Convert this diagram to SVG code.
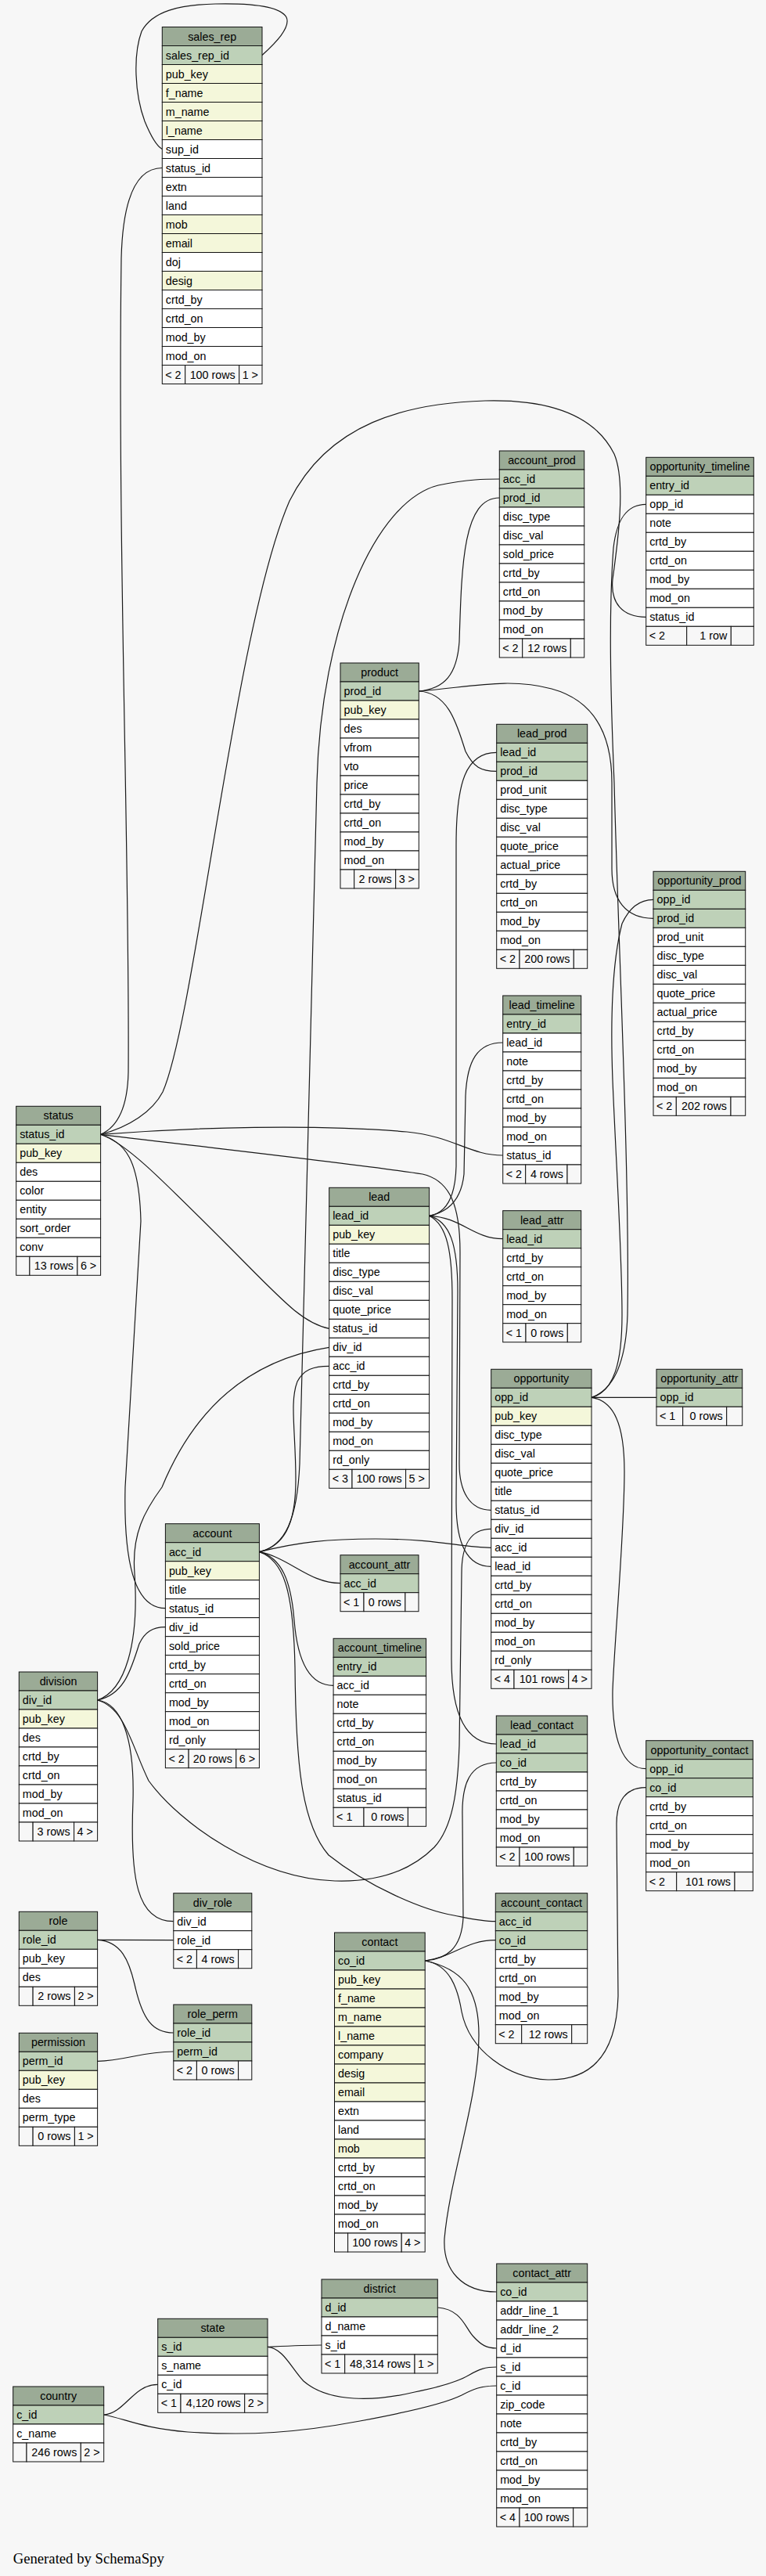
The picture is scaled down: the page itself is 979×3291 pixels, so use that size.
<svg xmlns="http://www.w3.org/2000/svg" width="979" height="3291" viewBox="0 0 979 3291">
<style>
.bg{fill:#f7f7f7;stroke:none}
.e{fill:none;stroke:#1a1a1a;stroke-width:1.2}
rect{stroke:#111;stroke-width:1}
.h{fill:#9bab96}
.k{fill:#bed1b8}
.y{fill:#f4f7da}
.w{fill:#ffffff}
.f{fill:#f7f7f7}
text{font-family:"Liberation Sans",Arial,Helvetica,sans-serif;font-size:14.3px;fill:#000}
.c{text-anchor:middle}
.r{text-anchor:end}
.g{font-family:"Liberation Serif","Times New Roman",serif;font-size:18.7px}
</style>
<rect class="bg" x="0" y="0" width="979" height="3291"/>
<g id="connectors">
<path class="e" d="M335,70.5 C352,55 372,35 366,22 C358,8 320,4 275,5 C230,6 195,14 181,40 C170,70 172,120 185,155 C192,172 199,186 207.3,190.5"/>
<path class="e" d="M128.6,1449.3 C150,1440 163,1415 164,1370 C166,1100 150,700 155,330 C157,250 175,214.5 207.3,214.5"/>
<path class="e" d="M128.6,1449.3 C165,1440 195,1420 208,1395 C250,1300 300,800 370,640 C420,540 520,515 620,512 C700,510 760,530 785,580 C800,615 790,690 783,740 C780,770 795,788.3 825.7,788.3"/>
<path class="e" d="M128.6,1449.3 C250,1440 400,1436 520,1446 C580,1452 600,1476 642.7,1476"/>
<path class="e" d="M128.6,1449.3 C160,1460 200,1500 290,1590 C360,1660 385,1690 420.7,1697.3"/>
<path class="e" d="M128.6,1449.3 C300,1470 480,1490 540,1500 C575,1508 588,1540 588,1600 L587,1870 C587,1905 600,1929.3 627.7,1929.3"/>
<path class="e" d="M128.6,1449.3 C160,1460 178,1480 180,1560 L160,1900 C158,1990 170,2054.7 211.4,2054.7"/>
<path class="e" d="M331.4,1982.7 C365,1975 380,1940 383,1870 C390,1600 400,1200 405,1000 C410,800 480,640 560,620 C600,612 620,612 638.3,612"/>
<path class="e" d="M535.3,883 C568,880 584,862 587,820 C590,720 592,636 638.3,636"/>
<path class="e" d="M535.3,883 C575,885 585,930 595,960 C605,980 615,985.3 634.7,985.3"/>
<path class="e" d="M535.3,883 C600,878 650,865 705,880 C760,895 782,940 782,1000 L782,1110 C782,1150 800,1173.3 835,1173.3"/>
<path class="e" d="M548.6,1553.3 C570,1550 582,1530 583,1490 L583,1080 C583,1000 595,961.3 634.7,961.3"/>
<path class="e" d="M548.6,1553.3 C575,1548 590,1530 593,1500 L595,1400 C597,1355 610,1332 642.7,1332"/>
<path class="e" d="M548.6,1553.3 C590,1555 605,1582.7 642.7,1582.7"/>
<path class="e" d="M548.6,1553.3 C575,1560 585,1590 585,1650 L583,1920 C583,1970 595,2001.3 627.7,2001.3"/>
<path class="e" d="M548.6,1553.3 C572,1565 578,1600 578,1660 L577,2120 C577,2190 595,2228 634.3,2228"/>
<path class="e" d="M756,1785.3 L839,1785.3"/>
<path class="e" d="M756,1785.3 C785,1775 800,1740 802,1680 C805,1500 790,1200 785,1000 C780,880 778,780 784,700 C788,665 800,644.3 825.7,644.3"/>
<path class="e" d="M756,1785.3 C785,1778 795,1740 795,1680 C795,1600 787,1480 783,1380 C780,1300 782,1230 795,1180 C805,1158 818,1149.3 835,1149.3"/>
<path class="e" d="M756,1785.3 C785,1790 798,1820 798,1880 C798,1960 785,2100 783,2160 C782,2220 795,2259.7 825.7,2259.7"/>
<path class="e" d="M331.4,1982.7 C362,1975 378,1950 378,1890 C378,1830 370,1790 380,1765 C388,1750 400,1745.3 420.7,1745.3"/>
<path class="e" d="M331.4,1982.7 C380,1970 420,1966 480,1966 C560,1966 590,1977.3 627.7,1977.3"/>
<path class="e" d="M331.4,1982.7 C370,1990 395,2022.7 435,2022.7"/>
<path class="e" d="M331.4,1982.7 C360,1990 372,2020 376,2070 C380,2120 395,2153.3 426.1,2153.3"/>
<path class="e" d="M331.4,1982.7 C362,1993 375,2030 377,2130 C378,2250 385,2330 420,2370 C470,2410 540,2440 580,2447 C600,2451 615,2454.7 633.3,2454.7"/>
<path class="e" d="M124.6,2172 C160,2165 168,2130 178,2100 C185,2085 195,2078.7 211.4,2078.7"/>
<path class="e" d="M124.6,2172 C160,2160 178,2100 172,2010 C168,1960 185,1930 207,1900 C240,1820 300,1740 420.7,1721.3"/>
<path class="e" d="M124.6,2172 C155,2176 172,2220 170,2300 C166,2400 175,2454.7 221.8,2454.7"/>
<path class="e" d="M124.6,2172 C160,2182 168,2230 190,2275 C230,2330 330,2400 428,2403 C490,2405 530,2385 555,2360 C578,2335 585,2290 587,2230 L590,2010 C590,1975 600,1953.3 627.7,1953.3"/>
<path class="e" d="M543.2,2505 C570,2503 590,2490 592,2450 L591,2320 C590,2280 600,2252 634.3,2252"/>
<path class="e" d="M543.2,2505 C580,2500 595,2478.7 633.3,2478.7"/>
<path class="e" d="M543.2,2505 C575,2510 585,2540 590,2570 C600,2620 650,2655 700,2657 C760,2658 788,2620 790,2550 L788,2330 C788,2300 800,2283.7 825.7,2283.7"/>
<path class="e" d="M543.2,2505 C590,2515 612,2540 612,2600 C612,2680 575,2780 568,2860 C566,2900 590,2928 634.7,2928"/>
<path class="e" d="M124.6,2478.3 L221.8,2478.7"/>
<path class="e" d="M124.6,2478.3 C155,2480 165,2505 172,2535 C182,2580 195,2597 221.8,2597"/>
<path class="e" d="M124.6,2633.3 C160,2633 180,2621 221.8,2621"/>
<path class="e" d="M132.7,3085 C160,3083 170,3046.3 201.7,3046.3"/>
<path class="e" d="M132.7,3085 C160,3090 180,3102 240,3107 C320,3112 380,3108 460,3093 C530,3080 570,3070 590,3060 C605,3052 615,3048 634.7,3048"/>
<path class="e" d="M342,2998.3 C370,2997 390,2996 411,2996"/>
<path class="e" d="M342,2998.3 C362,3000 372,3025 388,3042 C420,3070 480,3068 530,3056 C570,3048 590,3040 600,3034 C612,3027 620,3024 634.7,3024"/>
<path class="e" d="M559.3,2948 C590,2950 595,2975 605,2985 C615,2996 622,3000 634.7,3000"/>
</g>
<g id="sales_rep">
<rect class="h" x="207.3" y="34.5" width="127.7" height="24"/><text class="c" x="271.2" y="51.5">sales_rep</text>
<rect class="k" x="207.3" y="58.5" width="127.7" height="24"/><text x="211.8" y="75.5">sales_rep_id</text>
<rect class="y" x="207.3" y="82.5" width="127.7" height="24"/><text x="211.8" y="99.5">pub_key</text>
<rect class="y" x="207.3" y="106.5" width="127.7" height="24"/><text x="211.8" y="123.5">f_name</text>
<rect class="y" x="207.3" y="130.5" width="127.7" height="24"/><text x="211.8" y="147.5">m_name</text>
<rect class="y" x="207.3" y="154.5" width="127.7" height="24"/><text x="211.8" y="171.5">l_name</text>
<rect class="w" x="207.3" y="178.5" width="127.7" height="24"/><text x="211.8" y="195.5">sup_id</text>
<rect class="w" x="207.3" y="202.5" width="127.7" height="24"/><text x="211.8" y="219.5">status_id</text>
<rect class="w" x="207.3" y="226.5" width="127.7" height="24"/><text x="211.8" y="243.5">extn</text>
<rect class="w" x="207.3" y="250.5" width="127.7" height="24"/><text x="211.8" y="267.5">land</text>
<rect class="y" x="207.3" y="274.5" width="127.7" height="24"/><text x="211.8" y="291.5">mob</text>
<rect class="y" x="207.3" y="298.5" width="127.7" height="24"/><text x="211.8" y="315.5">email</text>
<rect class="w" x="207.3" y="322.5" width="127.7" height="24"/><text x="211.8" y="339.5">doj</text>
<rect class="y" x="207.3" y="346.5" width="127.7" height="24"/><text x="211.8" y="363.5">desig</text>
<rect class="w" x="207.3" y="370.5" width="127.7" height="24"/><text x="211.8" y="387.5">crtd_by</text>
<rect class="w" x="207.3" y="394.5" width="127.7" height="24"/><text x="211.8" y="411.5">crtd_on</text>
<rect class="w" x="207.3" y="418.5" width="127.7" height="24"/><text x="211.8" y="435.5">mod_by</text>
<rect class="w" x="207.3" y="442.5" width="127.7" height="24"/><text x="211.8" y="459.5">mod_on</text>
<rect class="f" x="207.3" y="466.5" width="29.4" height="24"/><rect class="f" x="236.7" y="466.5" width="69" height="24"/><rect class="f" x="305.7" y="466.5" width="29.3" height="24"/>
<text x="211.3" y="483.5">&lt; 2</text><text class="r" x="300.7" y="483.5">100 rows</text><text x="309.7" y="483.5">1 &gt;</text>
</g>
<g id="account_prod">
<rect class="h" x="638.3" y="576" width="108.4" height="24"/><text class="c" x="692.5" y="593">account_prod</text>
<rect class="k" x="638.3" y="600" width="108.4" height="24"/><text x="642.8" y="617">acc_id</text>
<rect class="k" x="638.3" y="624" width="108.4" height="24"/><text x="642.8" y="641">prod_id</text>
<rect class="w" x="638.3" y="648" width="108.4" height="24"/><text x="642.8" y="665">disc_type</text>
<rect class="w" x="638.3" y="672" width="108.4" height="24"/><text x="642.8" y="689">disc_val</text>
<rect class="w" x="638.3" y="696" width="108.4" height="24"/><text x="642.8" y="713">sold_price</text>
<rect class="w" x="638.3" y="720" width="108.4" height="24"/><text x="642.8" y="737">crtd_by</text>
<rect class="w" x="638.3" y="744" width="108.4" height="24"/><text x="642.8" y="761">crtd_on</text>
<rect class="w" x="638.3" y="768" width="108.4" height="24"/><text x="642.8" y="785">mod_by</text>
<rect class="w" x="638.3" y="792" width="108.4" height="24"/><text x="642.8" y="809">mod_on</text>
<rect class="f" x="638.3" y="816" width="29.4" height="24"/><rect class="f" x="667.7" y="816" width="61.6" height="24"/><rect class="f" x="729.3" y="816" width="17.4" height="24"/>
<text x="642.3" y="833">&lt; 2</text><text class="r" x="724.3" y="833">12 rows</text>
</g>
<g id="opportunity_timeline">
<rect class="h" x="825.7" y="584.3" width="137.6" height="24"/><text class="c" x="894.5" y="601.3">opportunity_timeline</text>
<rect class="k" x="825.7" y="608.3" width="137.6" height="24"/><text x="830.2" y="625.3">entry_id</text>
<rect class="w" x="825.7" y="632.3" width="137.6" height="24"/><text x="830.2" y="649.3">opp_id</text>
<rect class="w" x="825.7" y="656.3" width="137.6" height="24"/><text x="830.2" y="673.3">note</text>
<rect class="w" x="825.7" y="680.3" width="137.6" height="24"/><text x="830.2" y="697.3">crtd_by</text>
<rect class="w" x="825.7" y="704.3" width="137.6" height="24"/><text x="830.2" y="721.3">crtd_on</text>
<rect class="w" x="825.7" y="728.3" width="137.6" height="24"/><text x="830.2" y="745.3">mod_by</text>
<rect class="w" x="825.7" y="752.3" width="137.6" height="24"/><text x="830.2" y="769.3">mod_on</text>
<rect class="w" x="825.7" y="776.3" width="137.6" height="24"/><text x="830.2" y="793.3">status_id</text>
<rect class="f" x="825.7" y="800.3" width="52" height="24"/><rect class="f" x="877.7" y="800.3" width="56.6" height="24"/><rect class="f" x="934.3" y="800.3" width="29" height="24"/>
<text x="829.7" y="817.3">&lt; 2</text><text class="r" x="929.3" y="817.3">1 row</text>
</g>
<g id="product">
<rect class="h" x="435" y="847" width="100.3" height="24"/><text class="c" x="485.2" y="864">product</text>
<rect class="k" x="435" y="871" width="100.3" height="24"/><text x="439.5" y="888">prod_id</text>
<rect class="y" x="435" y="895" width="100.3" height="24"/><text x="439.5" y="912">pub_key</text>
<rect class="w" x="435" y="919" width="100.3" height="24"/><text x="439.5" y="936">des</text>
<rect class="w" x="435" y="943" width="100.3" height="24"/><text x="439.5" y="960">vfrom</text>
<rect class="w" x="435" y="967" width="100.3" height="24"/><text x="439.5" y="984">vto</text>
<rect class="w" x="435" y="991" width="100.3" height="24"/><text x="439.5" y="1008">price</text>
<rect class="w" x="435" y="1015" width="100.3" height="24"/><text x="439.5" y="1032">crtd_by</text>
<rect class="w" x="435" y="1039" width="100.3" height="24"/><text x="439.5" y="1056">crtd_on</text>
<rect class="w" x="435" y="1063" width="100.3" height="24"/><text x="439.5" y="1080">mod_by</text>
<rect class="w" x="435" y="1087" width="100.3" height="24"/><text x="439.5" y="1104">mod_on</text>
<rect class="f" x="435" y="1111" width="17.7" height="24"/><rect class="f" x="452.7" y="1111" width="53" height="24"/><rect class="f" x="505.7" y="1111" width="29.6" height="24"/>
<text class="r" x="500.7" y="1128">2 rows</text><text x="509.7" y="1128">3 &gt;</text>
</g>
<g id="lead_prod">
<rect class="h" x="634.7" y="925.3" width="116" height="24"/><text class="c" x="692.7" y="942.3">lead_prod</text>
<rect class="k" x="634.7" y="949.3" width="116" height="24"/><text x="639.2" y="966.3">lead_id</text>
<rect class="k" x="634.7" y="973.3" width="116" height="24"/><text x="639.2" y="990.3">prod_id</text>
<rect class="w" x="634.7" y="997.3" width="116" height="24"/><text x="639.2" y="1014.3">prod_unit</text>
<rect class="w" x="634.7" y="1021.3" width="116" height="24"/><text x="639.2" y="1038.3">disc_type</text>
<rect class="w" x="634.7" y="1045.3" width="116" height="24"/><text x="639.2" y="1062.3">disc_val</text>
<rect class="w" x="634.7" y="1069.3" width="116" height="24"/><text x="639.2" y="1086.3">quote_price</text>
<rect class="w" x="634.7" y="1093.3" width="116" height="24"/><text x="639.2" y="1110.3">actual_price</text>
<rect class="w" x="634.7" y="1117.3" width="116" height="24"/><text x="639.2" y="1134.3">crtd_by</text>
<rect class="w" x="634.7" y="1141.3" width="116" height="24"/><text x="639.2" y="1158.3">crtd_on</text>
<rect class="w" x="634.7" y="1165.3" width="116" height="24"/><text x="639.2" y="1182.3">mod_by</text>
<rect class="w" x="634.7" y="1189.3" width="116" height="24"/><text x="639.2" y="1206.3">mod_on</text>
<rect class="f" x="634.7" y="1213.3" width="29.3" height="24"/><rect class="f" x="664" y="1213.3" width="69.3" height="24"/><rect class="f" x="733.3" y="1213.3" width="17.4" height="24"/>
<text x="638.7" y="1230.3">&lt; 2</text><text class="r" x="728.3" y="1230.3">200 rows</text>
</g>
<g id="opportunity_prod">
<rect class="h" x="835" y="1113.3" width="117.7" height="24"/><text class="c" x="893.9" y="1130.3">opportunity_prod</text>
<rect class="k" x="835" y="1137.3" width="117.7" height="24"/><text x="839.5" y="1154.3">opp_id</text>
<rect class="k" x="835" y="1161.3" width="117.7" height="24"/><text x="839.5" y="1178.3">prod_id</text>
<rect class="w" x="835" y="1185.3" width="117.7" height="24"/><text x="839.5" y="1202.3">prod_unit</text>
<rect class="w" x="835" y="1209.3" width="117.7" height="24"/><text x="839.5" y="1226.3">disc_type</text>
<rect class="w" x="835" y="1233.3" width="117.7" height="24"/><text x="839.5" y="1250.3">disc_val</text>
<rect class="w" x="835" y="1257.3" width="117.7" height="24"/><text x="839.5" y="1274.3">quote_price</text>
<rect class="w" x="835" y="1281.3" width="117.7" height="24"/><text x="839.5" y="1298.3">actual_price</text>
<rect class="w" x="835" y="1305.3" width="117.7" height="24"/><text x="839.5" y="1322.3">crtd_by</text>
<rect class="w" x="835" y="1329.3" width="117.7" height="24"/><text x="839.5" y="1346.3">crtd_on</text>
<rect class="w" x="835" y="1353.3" width="117.7" height="24"/><text x="839.5" y="1370.3">mod_by</text>
<rect class="w" x="835" y="1377.3" width="117.7" height="24"/><text x="839.5" y="1394.3">mod_on</text>
<rect class="f" x="835" y="1401.3" width="29.3" height="24"/><rect class="f" x="864.3" y="1401.3" width="69.7" height="24"/><rect class="f" x="934" y="1401.3" width="18.7" height="24"/>
<text x="839" y="1418.3">&lt; 2</text><text class="r" x="929" y="1418.3">202 rows</text>
</g>
<g id="lead_timeline">
<rect class="h" x="642.7" y="1272" width="100" height="24"/><text class="c" x="692.7" y="1289">lead_timeline</text>
<rect class="k" x="642.7" y="1296" width="100" height="24"/><text x="647.2" y="1313">entry_id</text>
<rect class="w" x="642.7" y="1320" width="100" height="24"/><text x="647.2" y="1337">lead_id</text>
<rect class="w" x="642.7" y="1344" width="100" height="24"/><text x="647.2" y="1361">note</text>
<rect class="w" x="642.7" y="1368" width="100" height="24"/><text x="647.2" y="1385">crtd_by</text>
<rect class="w" x="642.7" y="1392" width="100" height="24"/><text x="647.2" y="1409">crtd_on</text>
<rect class="w" x="642.7" y="1416" width="100" height="24"/><text x="647.2" y="1433">mod_by</text>
<rect class="w" x="642.7" y="1440" width="100" height="24"/><text x="647.2" y="1457">mod_on</text>
<rect class="w" x="642.7" y="1464" width="100" height="24"/><text x="647.2" y="1481">status_id</text>
<rect class="f" x="642.7" y="1488" width="29" height="24"/><rect class="f" x="671.7" y="1488" width="53.3" height="24"/><rect class="f" x="725" y="1488" width="17.7" height="24"/>
<text x="646.7" y="1505">&lt; 2</text><text class="r" x="720" y="1505">4 rows</text>
</g>
<g id="status">
<rect class="h" x="20.7" y="1413.3" width="107.9" height="24"/><text class="c" x="74.7" y="1430.3">status</text>
<rect class="k" x="20.7" y="1437.3" width="107.9" height="24"/><text x="25.2" y="1454.3">status_id</text>
<rect class="y" x="20.7" y="1461.3" width="107.9" height="24"/><text x="25.2" y="1478.3">pub_key</text>
<rect class="w" x="20.7" y="1485.3" width="107.9" height="24"/><text x="25.2" y="1502.3">des</text>
<rect class="w" x="20.7" y="1509.3" width="107.9" height="24"/><text x="25.2" y="1526.3">color</text>
<rect class="w" x="20.7" y="1533.3" width="107.9" height="24"/><text x="25.2" y="1550.3">entity</text>
<rect class="w" x="20.7" y="1557.3" width="107.9" height="24"/><text x="25.2" y="1574.3">sort_order</text>
<rect class="w" x="20.7" y="1581.3" width="107.9" height="24"/><text x="25.2" y="1598.3">conv</text>
<rect class="f" x="20.7" y="1605.3" width="17.2" height="24"/><rect class="f" x="37.9" y="1605.3" width="61" height="24"/><rect class="f" x="98.9" y="1605.3" width="29.7" height="24"/>
<text class="r" x="93.9" y="1622.3">13 rows</text><text x="102.9" y="1622.3">6 &gt;</text>
</g>
<g id="lead">
<rect class="h" x="420.7" y="1517.3" width="127.9" height="24"/><text class="c" x="484.7" y="1534.3">lead</text>
<rect class="k" x="420.7" y="1541.3" width="127.9" height="24"/><text x="425.2" y="1558.3">lead_id</text>
<rect class="y" x="420.7" y="1565.3" width="127.9" height="24"/><text x="425.2" y="1582.3">pub_key</text>
<rect class="w" x="420.7" y="1589.3" width="127.9" height="24"/><text x="425.2" y="1606.3">title</text>
<rect class="w" x="420.7" y="1613.3" width="127.9" height="24"/><text x="425.2" y="1630.3">disc_type</text>
<rect class="w" x="420.7" y="1637.3" width="127.9" height="24"/><text x="425.2" y="1654.3">disc_val</text>
<rect class="w" x="420.7" y="1661.3" width="127.9" height="24"/><text x="425.2" y="1678.3">quote_price</text>
<rect class="w" x="420.7" y="1685.3" width="127.9" height="24"/><text x="425.2" y="1702.3">status_id</text>
<rect class="w" x="420.7" y="1709.3" width="127.9" height="24"/><text x="425.2" y="1726.3">div_id</text>
<rect class="w" x="420.7" y="1733.3" width="127.9" height="24"/><text x="425.2" y="1750.3">acc_id</text>
<rect class="w" x="420.7" y="1757.3" width="127.9" height="24"/><text x="425.2" y="1774.3">crtd_by</text>
<rect class="w" x="420.7" y="1781.3" width="127.9" height="24"/><text x="425.2" y="1798.3">crtd_on</text>
<rect class="w" x="420.7" y="1805.3" width="127.9" height="24"/><text x="425.2" y="1822.3">mod_by</text>
<rect class="w" x="420.7" y="1829.3" width="127.9" height="24"/><text x="425.2" y="1846.3">mod_on</text>
<rect class="w" x="420.7" y="1853.3" width="127.9" height="24"/><text x="425.2" y="1870.3">rd_only</text>
<rect class="f" x="420.7" y="1877.3" width="29.3" height="24"/><rect class="f" x="450" y="1877.3" width="68.6" height="24"/><rect class="f" x="518.6" y="1877.3" width="30" height="24"/>
<text x="424.7" y="1894.3">&lt; 3</text><text class="r" x="513.6" y="1894.3">100 rows</text><text x="522.6" y="1894.3">5 &gt;</text>
</g>
<g id="lead_attr">
<rect class="h" x="642.7" y="1546.7" width="100" height="24"/><text class="c" x="692.7" y="1563.7">lead_attr</text>
<rect class="k" x="642.7" y="1570.7" width="100" height="24"/><text x="647.2" y="1587.7">lead_id</text>
<rect class="w" x="642.7" y="1594.7" width="100" height="24"/><text x="647.2" y="1611.7">crtd_by</text>
<rect class="w" x="642.7" y="1618.7" width="100" height="24"/><text x="647.2" y="1635.7">crtd_on</text>
<rect class="w" x="642.7" y="1642.7" width="100" height="24"/><text x="647.2" y="1659.7">mod_by</text>
<rect class="w" x="642.7" y="1666.7" width="100" height="24"/><text x="647.2" y="1683.7">mod_on</text>
<rect class="f" x="642.7" y="1690.7" width="29.3" height="24"/><rect class="f" x="672" y="1690.7" width="53.3" height="24"/><rect class="f" x="725.3" y="1690.7" width="17.4" height="24"/>
<text x="646.7" y="1707.7">&lt; 1</text><text class="r" x="720.3" y="1707.7">0 rows</text>
</g>
<g id="opportunity">
<rect class="h" x="627.7" y="1749.3" width="128.3" height="24"/><text class="c" x="691.9" y="1766.3">opportunity</text>
<rect class="k" x="627.7" y="1773.3" width="128.3" height="24"/><text x="632.2" y="1790.3">opp_id</text>
<rect class="y" x="627.7" y="1797.3" width="128.3" height="24"/><text x="632.2" y="1814.3">pub_key</text>
<rect class="w" x="627.7" y="1821.3" width="128.3" height="24"/><text x="632.2" y="1838.3">disc_type</text>
<rect class="w" x="627.7" y="1845.3" width="128.3" height="24"/><text x="632.2" y="1862.3">disc_val</text>
<rect class="w" x="627.7" y="1869.3" width="128.3" height="24"/><text x="632.2" y="1886.3">quote_price</text>
<rect class="w" x="627.7" y="1893.3" width="128.3" height="24"/><text x="632.2" y="1910.3">title</text>
<rect class="w" x="627.7" y="1917.3" width="128.3" height="24"/><text x="632.2" y="1934.3">status_id</text>
<rect class="w" x="627.7" y="1941.3" width="128.3" height="24"/><text x="632.2" y="1958.3">div_id</text>
<rect class="w" x="627.7" y="1965.3" width="128.3" height="24"/><text x="632.2" y="1982.3">acc_id</text>
<rect class="w" x="627.7" y="1989.3" width="128.3" height="24"/><text x="632.2" y="2006.3">lead_id</text>
<rect class="w" x="627.7" y="2013.3" width="128.3" height="24"/><text x="632.2" y="2030.3">crtd_by</text>
<rect class="w" x="627.7" y="2037.3" width="128.3" height="24"/><text x="632.2" y="2054.3">crtd_on</text>
<rect class="w" x="627.7" y="2061.3" width="128.3" height="24"/><text x="632.2" y="2078.3">mod_by</text>
<rect class="w" x="627.7" y="2085.3" width="128.3" height="24"/><text x="632.2" y="2102.3">mod_on</text>
<rect class="w" x="627.7" y="2109.3" width="128.3" height="24"/><text x="632.2" y="2126.3">rd_only</text>
<rect class="f" x="627.7" y="2133.3" width="29.3" height="24"/><rect class="f" x="657" y="2133.3" width="69.7" height="24"/><rect class="f" x="726.7" y="2133.3" width="29.3" height="24"/>
<text x="631.7" y="2150.3">&lt; 4</text><text class="r" x="721.7" y="2150.3">101 rows</text><text x="730.7" y="2150.3">4 &gt;</text>
</g>
<g id="opportunity_attr">
<rect class="h" x="839" y="1749.3" width="109.7" height="24"/><text class="c" x="893.9" y="1766.3">opportunity_attr</text>
<rect class="k" x="839" y="1773.3" width="109.7" height="24"/><text x="843.5" y="1790.3">opp_id</text>
<rect class="f" x="839" y="1797.3" width="33.7" height="24"/><rect class="f" x="872.7" y="1797.3" width="56" height="24"/><rect class="f" x="928.7" y="1797.3" width="20" height="24"/>
<text x="843" y="1814.3">&lt; 1</text><text class="r" x="923.7" y="1814.3">0 rows</text>
</g>
<g id="account">
<rect class="h" x="211.4" y="1946.7" width="120" height="24"/><text class="c" x="271.4" y="1963.7">account</text>
<rect class="k" x="211.4" y="1970.7" width="120" height="24"/><text x="215.9" y="1987.7">acc_id</text>
<rect class="y" x="211.4" y="1994.7" width="120" height="24"/><text x="215.9" y="2011.7">pub_key</text>
<rect class="w" x="211.4" y="2018.7" width="120" height="24"/><text x="215.9" y="2035.7">title</text>
<rect class="w" x="211.4" y="2042.7" width="120" height="24"/><text x="215.9" y="2059.7">status_id</text>
<rect class="w" x="211.4" y="2066.7" width="120" height="24"/><text x="215.9" y="2083.7">div_id</text>
<rect class="w" x="211.4" y="2090.7" width="120" height="24"/><text x="215.9" y="2107.7">sold_price</text>
<rect class="w" x="211.4" y="2114.7" width="120" height="24"/><text x="215.9" y="2131.7">crtd_by</text>
<rect class="w" x="211.4" y="2138.7" width="120" height="24"/><text x="215.9" y="2155.7">crtd_on</text>
<rect class="w" x="211.4" y="2162.7" width="120" height="24"/><text x="215.9" y="2179.7">mod_by</text>
<rect class="w" x="211.4" y="2186.7" width="120" height="24"/><text x="215.9" y="2203.7">mod_on</text>
<rect class="w" x="211.4" y="2210.7" width="120" height="24"/><text x="215.9" y="2227.7">rd_only</text>
<rect class="f" x="211.4" y="2234.7" width="29.7" height="24"/><rect class="f" x="241.1" y="2234.7" width="60.7" height="24"/><rect class="f" x="301.8" y="2234.7" width="29.6" height="24"/>
<text x="215.4" y="2251.7">&lt; 2</text><text class="r" x="296.8" y="2251.7">20 rows</text><text x="305.8" y="2251.7">6 &gt;</text>
</g>
<g id="account_attr">
<rect class="h" x="435" y="1986.7" width="100" height="24"/><text class="c" x="485" y="2003.7">account_attr</text>
<rect class="k" x="435" y="2010.7" width="100" height="24"/><text x="439.5" y="2027.7">acc_id</text>
<rect class="f" x="435" y="2034.7" width="30" height="24"/><rect class="f" x="465" y="2034.7" width="52.9" height="24"/><rect class="f" x="517.9" y="2034.7" width="17.1" height="24"/>
<text x="439" y="2051.7">&lt; 1</text><text class="r" x="512.9" y="2051.7">0 rows</text>
</g>
<g id="account_timeline">
<rect class="h" x="426.1" y="2093.3" width="118.5" height="24"/><text class="c" x="485.4" y="2110.3">account_timeline</text>
<rect class="k" x="426.1" y="2117.3" width="118.5" height="24"/><text x="430.6" y="2134.3">entry_id</text>
<rect class="w" x="426.1" y="2141.3" width="118.5" height="24"/><text x="430.6" y="2158.3">acc_id</text>
<rect class="w" x="426.1" y="2165.3" width="118.5" height="24"/><text x="430.6" y="2182.3">note</text>
<rect class="w" x="426.1" y="2189.3" width="118.5" height="24"/><text x="430.6" y="2206.3">crtd_by</text>
<rect class="w" x="426.1" y="2213.3" width="118.5" height="24"/><text x="430.6" y="2230.3">crtd_on</text>
<rect class="w" x="426.1" y="2237.3" width="118.5" height="24"/><text x="430.6" y="2254.3">mod_by</text>
<rect class="w" x="426.1" y="2261.3" width="118.5" height="24"/><text x="430.6" y="2278.3">mod_on</text>
<rect class="w" x="426.1" y="2285.3" width="118.5" height="24"/><text x="430.6" y="2302.3">status_id</text>
<rect class="f" x="426.1" y="2309.3" width="38.9" height="24"/><rect class="f" x="465" y="2309.3" width="56.4" height="24"/><rect class="f" x="521.4" y="2309.3" width="23.2" height="24"/>
<text x="430.1" y="2326.3">&lt; 1</text><text class="r" x="516.4" y="2326.3">0 rows</text>
</g>
<g id="division">
<rect class="h" x="24.3" y="2136" width="100.3" height="24"/><text class="c" x="74.5" y="2153">division</text>
<rect class="k" x="24.3" y="2160" width="100.3" height="24"/><text x="28.8" y="2177">div_id</text>
<rect class="y" x="24.3" y="2184" width="100.3" height="24"/><text x="28.8" y="2201">pub_key</text>
<rect class="w" x="24.3" y="2208" width="100.3" height="24"/><text x="28.8" y="2225">des</text>
<rect class="w" x="24.3" y="2232" width="100.3" height="24"/><text x="28.8" y="2249">crtd_by</text>
<rect class="w" x="24.3" y="2256" width="100.3" height="24"/><text x="28.8" y="2273">crtd_on</text>
<rect class="w" x="24.3" y="2280" width="100.3" height="24"/><text x="28.8" y="2297">mod_by</text>
<rect class="w" x="24.3" y="2304" width="100.3" height="24"/><text x="28.8" y="2321">mod_on</text>
<rect class="f" x="24.3" y="2328" width="17.8" height="24"/><rect class="f" x="42.1" y="2328" width="52.5" height="24"/><rect class="f" x="94.6" y="2328" width="30" height="24"/>
<text class="r" x="89.6" y="2345">3 rows</text><text x="98.6" y="2345">4 &gt;</text>
</g>
<g id="lead_contact">
<rect class="h" x="634.3" y="2192" width="116.4" height="24"/><text class="c" x="692.5" y="2209">lead_contact</text>
<rect class="k" x="634.3" y="2216" width="116.4" height="24"/><text x="638.8" y="2233">lead_id</text>
<rect class="k" x="634.3" y="2240" width="116.4" height="24"/><text x="638.8" y="2257">co_id</text>
<rect class="w" x="634.3" y="2264" width="116.4" height="24"/><text x="638.8" y="2281">crtd_by</text>
<rect class="w" x="634.3" y="2288" width="116.4" height="24"/><text x="638.8" y="2305">crtd_on</text>
<rect class="w" x="634.3" y="2312" width="116.4" height="24"/><text x="638.8" y="2329">mod_by</text>
<rect class="w" x="634.3" y="2336" width="116.4" height="24"/><text x="638.8" y="2353">mod_on</text>
<rect class="f" x="634.3" y="2360" width="29.7" height="24"/><rect class="f" x="664" y="2360" width="69.3" height="24"/><rect class="f" x="733.3" y="2360" width="17.4" height="24"/>
<text x="638.3" y="2377">&lt; 2</text><text class="r" x="728.3" y="2377">100 rows</text>
</g>
<g id="opportunity_contact">
<rect class="h" x="825.7" y="2223.7" width="136.6" height="24"/><text class="c" x="894" y="2240.7">opportunity_contact</text>
<rect class="k" x="825.7" y="2247.7" width="136.6" height="24"/><text x="830.2" y="2264.7">opp_id</text>
<rect class="k" x="825.7" y="2271.7" width="136.6" height="24"/><text x="830.2" y="2288.7">co_id</text>
<rect class="w" x="825.7" y="2295.7" width="136.6" height="24"/><text x="830.2" y="2312.7">crtd_by</text>
<rect class="w" x="825.7" y="2319.7" width="136.6" height="24"/><text x="830.2" y="2336.7">crtd_on</text>
<rect class="w" x="825.7" y="2343.7" width="136.6" height="24"/><text x="830.2" y="2360.7">mod_by</text>
<rect class="w" x="825.7" y="2367.7" width="136.6" height="24"/><text x="830.2" y="2384.7">mod_on</text>
<rect class="f" x="825.7" y="2391.7" width="39" height="24"/><rect class="f" x="864.7" y="2391.7" width="74.3" height="24"/><rect class="f" x="939" y="2391.7" width="23.3" height="24"/>
<text x="829.7" y="2408.7">&lt; 2</text><text class="r" x="934" y="2408.7">101 rows</text>
</g>
<g id="account_contact">
<rect class="h" x="633.3" y="2418.7" width="117.4" height="24"/><text class="c" x="692" y="2435.7">account_contact</text>
<rect class="k" x="633.3" y="2442.7" width="117.4" height="24"/><text x="637.8" y="2459.7">acc_id</text>
<rect class="k" x="633.3" y="2466.7" width="117.4" height="24"/><text x="637.8" y="2483.7">co_id</text>
<rect class="w" x="633.3" y="2490.7" width="117.4" height="24"/><text x="637.8" y="2507.7">crtd_by</text>
<rect class="w" x="633.3" y="2514.7" width="117.4" height="24"/><text x="637.8" y="2531.7">crtd_on</text>
<rect class="w" x="633.3" y="2538.7" width="117.4" height="24"/><text x="637.8" y="2555.7">mod_by</text>
<rect class="w" x="633.3" y="2562.7" width="117.4" height="24"/><text x="637.8" y="2579.7">mod_on</text>
<rect class="f" x="633.3" y="2586.7" width="33.4" height="24"/><rect class="f" x="666.7" y="2586.7" width="64" height="24"/><rect class="f" x="730.7" y="2586.7" width="20" height="24"/>
<text x="637.3" y="2603.7">&lt; 2</text><text class="r" x="725.7" y="2603.7">12 rows</text>
</g>
<g id="div_role">
<rect class="h" x="221.8" y="2418.7" width="100" height="24"/><text class="c" x="271.8" y="2435.7">div_role</text>
<rect class="w" x="221.8" y="2442.7" width="100" height="24"/><text x="226.3" y="2459.7">div_id</text>
<rect class="w" x="221.8" y="2466.7" width="100" height="24"/><text x="226.3" y="2483.7">role_id</text>
<rect class="f" x="221.8" y="2490.7" width="29.6" height="24"/><rect class="f" x="251.4" y="2490.7" width="53.2" height="24"/><rect class="f" x="304.6" y="2490.7" width="17.2" height="24"/>
<text x="225.8" y="2507.7">&lt; 2</text><text class="r" x="299.6" y="2507.7">4 rows</text>
</g>
<g id="role">
<rect class="h" x="24.3" y="2442.3" width="100.3" height="24"/><text class="c" x="74.5" y="2459.3">role</text>
<rect class="k" x="24.3" y="2466.3" width="100.3" height="24"/><text x="28.8" y="2483.3">role_id</text>
<rect class="w" x="24.3" y="2490.3" width="100.3" height="24"/><text x="28.8" y="2507.3">pub_key</text>
<rect class="w" x="24.3" y="2514.3" width="100.3" height="24"/><text x="28.8" y="2531.3">des</text>
<rect class="f" x="24.3" y="2538.3" width="17.8" height="24"/><rect class="f" x="42.1" y="2538.3" width="53.3" height="24"/><rect class="f" x="95.4" y="2538.3" width="29.2" height="24"/>
<text class="r" x="90.4" y="2555.3">2 rows</text><text x="99.4" y="2555.3">2 &gt;</text>
</g>
<g id="role_perm">
<rect class="h" x="221.8" y="2561" width="100" height="24"/><text class="c" x="271.8" y="2578">role_perm</text>
<rect class="k" x="221.8" y="2585" width="100" height="24"/><text x="226.3" y="2602">role_id</text>
<rect class="k" x="221.8" y="2609" width="100" height="24"/><text x="226.3" y="2626">perm_id</text>
<rect class="f" x="221.8" y="2633" width="29.6" height="24"/><rect class="f" x="251.4" y="2633" width="53.2" height="24"/><rect class="f" x="304.6" y="2633" width="17.2" height="24"/>
<text x="225.8" y="2650">&lt; 2</text><text class="r" x="299.6" y="2650">0 rows</text>
</g>
<g id="permission">
<rect class="h" x="24.3" y="2597.3" width="100.3" height="24"/><text class="c" x="74.5" y="2614.3">permission</text>
<rect class="k" x="24.3" y="2621.3" width="100.3" height="24"/><text x="28.8" y="2638.3">perm_id</text>
<rect class="y" x="24.3" y="2645.3" width="100.3" height="24"/><text x="28.8" y="2662.3">pub_key</text>
<rect class="w" x="24.3" y="2669.3" width="100.3" height="24"/><text x="28.8" y="2686.3">des</text>
<rect class="w" x="24.3" y="2693.3" width="100.3" height="24"/><text x="28.8" y="2710.3">perm_type</text>
<rect class="f" x="24.3" y="2717.3" width="17.8" height="24"/><rect class="f" x="42.1" y="2717.3" width="53.3" height="24"/><rect class="f" x="95.4" y="2717.3" width="29.2" height="24"/>
<text class="r" x="90.4" y="2734.3">0 rows</text><text x="99.4" y="2734.3">1 &gt;</text>
</g>
<g id="contact">
<rect class="h" x="427.5" y="2469" width="115.7" height="24"/><text class="c" x="485.4" y="2486">contact</text>
<rect class="k" x="427.5" y="2493" width="115.7" height="24"/><text x="432" y="2510">co_id</text>
<rect class="y" x="427.5" y="2517" width="115.7" height="24"/><text x="432" y="2534">pub_key</text>
<rect class="y" x="427.5" y="2541" width="115.7" height="24"/><text x="432" y="2558">f_name</text>
<rect class="y" x="427.5" y="2565" width="115.7" height="24"/><text x="432" y="2582">m_name</text>
<rect class="y" x="427.5" y="2589" width="115.7" height="24"/><text x="432" y="2606">l_name</text>
<rect class="y" x="427.5" y="2613" width="115.7" height="24"/><text x="432" y="2630">company</text>
<rect class="y" x="427.5" y="2637" width="115.7" height="24"/><text x="432" y="2654">desig</text>
<rect class="y" x="427.5" y="2661" width="115.7" height="24"/><text x="432" y="2678">email</text>
<rect class="w" x="427.5" y="2685" width="115.7" height="24"/><text x="432" y="2702">extn</text>
<rect class="w" x="427.5" y="2709" width="115.7" height="24"/><text x="432" y="2726">land</text>
<rect class="y" x="427.5" y="2733" width="115.7" height="24"/><text x="432" y="2750">mob</text>
<rect class="w" x="427.5" y="2757" width="115.7" height="24"/><text x="432" y="2774">crtd_by</text>
<rect class="w" x="427.5" y="2781" width="115.7" height="24"/><text x="432" y="2798">crtd_on</text>
<rect class="w" x="427.5" y="2805" width="115.7" height="24"/><text x="432" y="2822">mod_by</text>
<rect class="w" x="427.5" y="2829" width="115.7" height="24"/><text x="432" y="2846">mod_on</text>
<rect class="f" x="427.5" y="2853" width="17.1" height="24"/><rect class="f" x="444.6" y="2853" width="68.6" height="24"/><rect class="f" x="513.2" y="2853" width="30" height="24"/>
<text class="r" x="508.2" y="2870">100 rows</text><text x="517.2" y="2870">4 &gt;</text>
</g>
<g id="contact_attr">
<rect class="h" x="634.7" y="2892" width="116" height="24"/><text class="c" x="692.7" y="2909">contact_attr</text>
<rect class="k" x="634.7" y="2916" width="116" height="24"/><text x="639.2" y="2933">co_id</text>
<rect class="w" x="634.7" y="2940" width="116" height="24"/><text x="639.2" y="2957">addr_line_1</text>
<rect class="w" x="634.7" y="2964" width="116" height="24"/><text x="639.2" y="2981">addr_line_2</text>
<rect class="w" x="634.7" y="2988" width="116" height="24"/><text x="639.2" y="3005">d_id</text>
<rect class="w" x="634.7" y="3012" width="116" height="24"/><text x="639.2" y="3029">s_id</text>
<rect class="w" x="634.7" y="3036" width="116" height="24"/><text x="639.2" y="3053">c_id</text>
<rect class="w" x="634.7" y="3060" width="116" height="24"/><text x="639.2" y="3077">zip_code</text>
<rect class="w" x="634.7" y="3084" width="116" height="24"/><text x="639.2" y="3101">note</text>
<rect class="w" x="634.7" y="3108" width="116" height="24"/><text x="639.2" y="3125">crtd_by</text>
<rect class="w" x="634.7" y="3132" width="116" height="24"/><text x="639.2" y="3149">crtd_on</text>
<rect class="w" x="634.7" y="3156" width="116" height="24"/><text x="639.2" y="3173">mod_by</text>
<rect class="w" x="634.7" y="3180" width="116" height="24"/><text x="639.2" y="3197">mod_on</text>
<rect class="f" x="634.7" y="3204" width="29.3" height="24"/><rect class="f" x="664" y="3204" width="68.7" height="24"/><rect class="f" x="732.7" y="3204" width="18" height="24"/>
<text x="638.7" y="3221">&lt; 4</text><text class="r" x="727.7" y="3221">100 rows</text>
</g>
<g id="district">
<rect class="h" x="411" y="2912" width="148.3" height="24"/><text class="c" x="485.2" y="2929">district</text>
<rect class="k" x="411" y="2936" width="148.3" height="24"/><text x="415.5" y="2953">d_id</text>
<rect class="w" x="411" y="2960" width="148.3" height="24"/><text x="415.5" y="2977">d_name</text>
<rect class="w" x="411" y="2984" width="148.3" height="24"/><text x="415.5" y="3001">s_id</text>
<rect class="f" x="411" y="3008" width="29.7" height="24"/><rect class="f" x="440.7" y="3008" width="89.3" height="24"/><rect class="f" x="530" y="3008" width="29.3" height="24"/>
<text x="415" y="3025">&lt; 1</text><text class="r" x="525" y="3025">48,314 rows</text><text x="534" y="3025">1 &gt;</text>
</g>
<g id="state">
<rect class="h" x="201.7" y="2962.3" width="140.3" height="24"/><text class="c" x="271.9" y="2979.3">state</text>
<rect class="k" x="201.7" y="2986.3" width="140.3" height="24"/><text x="206.2" y="3003.3">s_id</text>
<rect class="w" x="201.7" y="3010.3" width="140.3" height="24"/><text x="206.2" y="3027.3">s_name</text>
<rect class="w" x="201.7" y="3034.3" width="140.3" height="24"/><text x="206.2" y="3051.3">c_id</text>
<rect class="f" x="201.7" y="3058.3" width="29.3" height="24"/><rect class="f" x="231" y="3058.3" width="81.7" height="24"/><rect class="f" x="312.7" y="3058.3" width="29.3" height="24"/>
<text x="205.7" y="3075.3">&lt; 1</text><text class="r" x="307.7" y="3075.3">4,120 rows</text><text x="316.7" y="3075.3">2 &gt;</text>
</g>
<g id="country">
<rect class="h" x="16.7" y="3049" width="116" height="24"/><text class="c" x="74.7" y="3066">country</text>
<rect class="k" x="16.7" y="3073" width="116" height="24"/><text x="21.2" y="3090">c_id</text>
<rect class="w" x="16.7" y="3097" width="116" height="24"/><text x="21.2" y="3114">c_name</text>
<rect class="f" x="16.7" y="3121" width="17.3" height="24"/><rect class="f" x="34" y="3121" width="69.3" height="24"/><rect class="f" x="103.3" y="3121" width="29.4" height="24"/>
<text class="r" x="98.3" y="3138">246 rows</text><text x="107.3" y="3138">2 &gt;</text>
</g>
<text class="g" x="16.7" y="3275">Generated by SchemaSpy</text>
</svg>
